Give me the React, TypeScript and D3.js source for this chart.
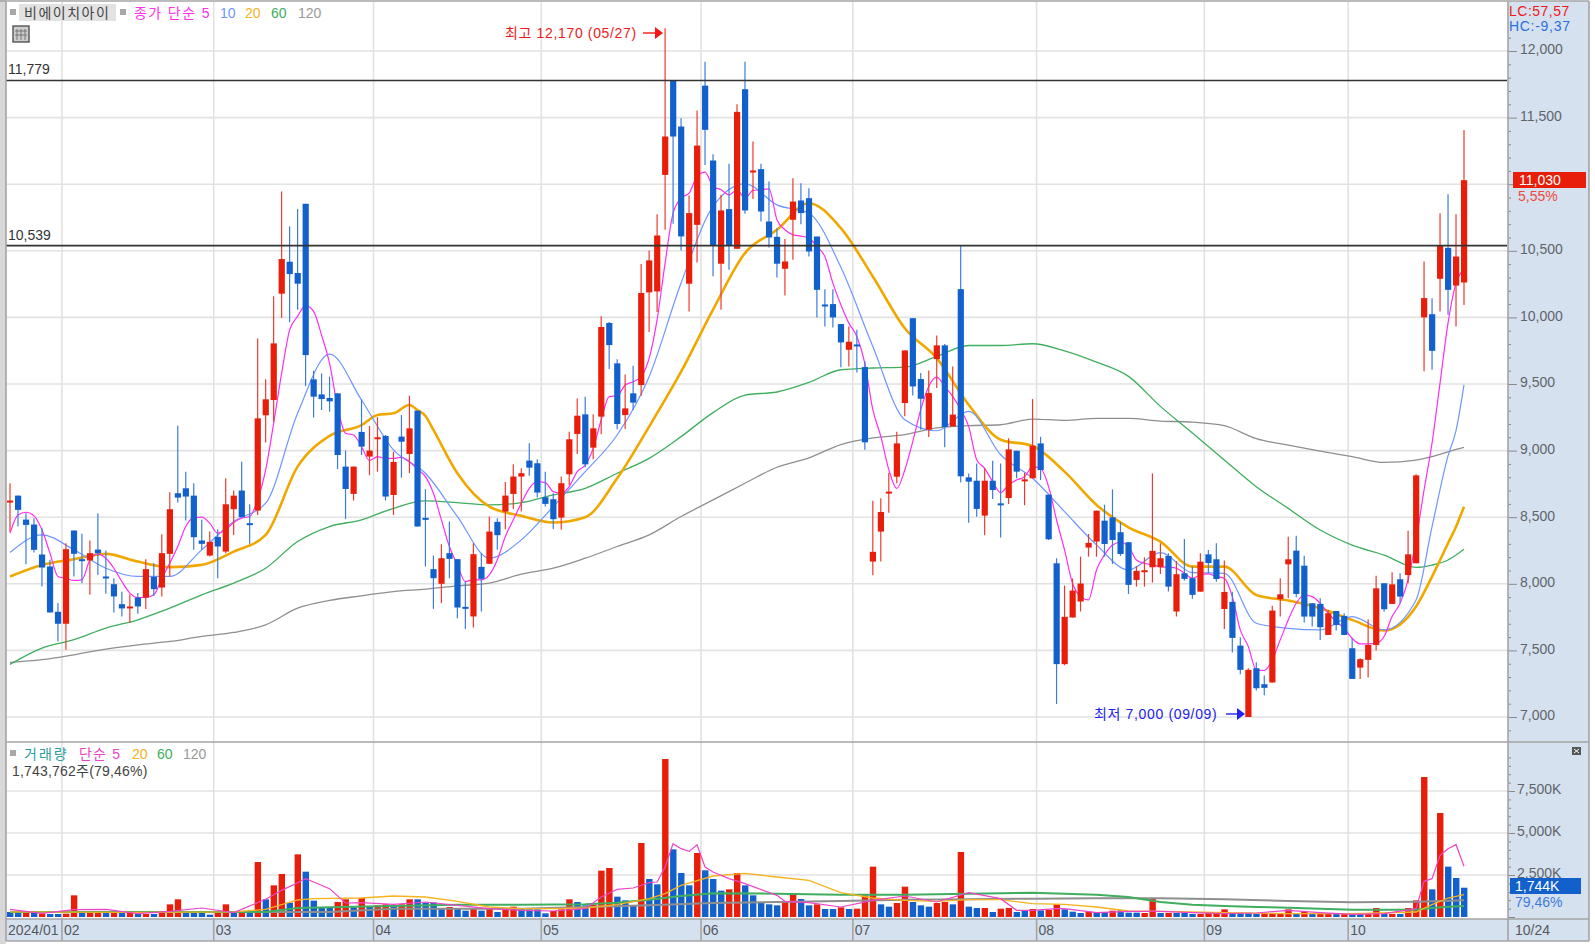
import { useRef, useEffect } from 'react';
import * as d3 from 'd3';

const opens = [
    8625, 8662, 8482, 8445, 8220, 8130, 7790, 7700, 8400, 8185,
    8175, 8257, 8055, 7997, 7847, 7830, 7897, 7897, 8052, 7972,
    8225, 8680, 8717, 8662, 8325, 8212, 8352, 8242, 8560, 8700,
    8455, 8550, 9265, 9380, 10178, 10418, 10333, 10853, 9535, 9422,
    9395, 9430, 8880, 8675, 9140, 8955, 9100, 9110, 8667, 9105,
    8975, 9300, 8495, 8110, 8000, 8230, 8185, 7827, 7755, 8127,
    8150, 8465, 8542, 8675, 8805, 8925, 8905, 8650, 8635, 8497,
    8822, 9125, 9272, 9022, 9255, 9958, 9655, 9267, 9430, 9492,
    10188, 10195, 11070, 11775, 11433, 10253, 10695, 11740, 11178, 10403,
    10813, 10515, 11713, 11103, 11113, 10720, 10605, 10365, 10733, 10878,
    10895, 10607, 10097, 10100, 9950, 9757, 9797, 9627, 8167, 8392,
    8692, 8804, 9357, 9994, 9537, 9157, 9687, 9790, 9182, 10212,
    8799, 8774, 8512, 8774, 8604, 8644, 8999, 8784, 8792, 9054,
    8669, 8154, 7397, 7747, 7867, 8272, 8317, 8474, 8499, 8387,
    8312, 8029, 8102, 8124, 8124, 8209, 7792, 8079, 8042, 7941,
    8221, 8184, 7811, 7864, 7536, 7000, 7366, 7246, 7259, 7884,
    8146, 8249, 8136, 7854, 7849, 7616, 7796, 7759, 7516, 7371,
    7429, 7541, 8004, 7849, 8034, 8066, 8154, 10000, 10024, 10290,
    10522, 10239, 10262,
];
const closes = [
    8625, 8555, 8442, 8255, 8122, 7785, 7700, 8260, 8225, 8180,
    8230, 8230, 8050, 7905, 7815, 7830, 7830, 8110, 7960, 8230,
    8560, 8647, 8655, 8350, 8300, 8315, 8280, 8597, 8662, 8500,
    8450, 9242, 9385, 9805, 10438, 10325, 10253, 9717, 9405, 9387,
    9370, 8967, 8712, 8880, 9030, 9000, 9100, 8655, 8915, 9067,
    9167, 8430, 8490, 8042, 8192, 8187, 7822, 7822, 8222, 8037,
    8392, 8365, 8662, 8805, 8830, 8872, 8685, 8600, 8485, 8755,
    9085, 9262, 8897, 9167, 9928, 9792, 9200, 9317, 9360, 10183,
    10428, 10615, 11358, 11358, 10608, 10783, 11290, 11408, 10540, 10803,
    10540, 11543, 10803, 11103, 10795, 10600, 10403, 10420, 10870, 10783,
    10495, 10207, 10092, 10000, 9812, 9817, 9792, 9062, 8240, 8539,
    8692, 9054, 9752, 9482, 9389, 9432, 9790, 9177, 9270, 8807,
    8767, 8562, 8774, 8704, 8599, 9009, 8842, 8784, 9037, 8854,
    8334, 7397, 7752, 7949, 8002, 8307, 8549, 8299, 8329, 8224,
    7992, 8097, 8102, 8247, 8192, 7979, 8072, 8037, 7917, 8166,
    8156, 8036, 7939, 7594, 7354, 7354, 7216, 7219, 7799, 7921,
    8184, 7924, 7754, 7754, 7674, 7779, 7691, 7616, 7286, 7434,
    7541, 7966, 7809, 7996, 7904, 8221, 8814, 10145, 9749, 10537,
    10207, 10457, 11030,
];
const highs = [
    8755, 8662, 8530, 8492, 8417, 8180, 7855, 8305, 8400, 8375,
    8325, 8530, 8250, 8042, 7940, 7922, 7930, 8185, 8155, 8372,
    8687, 9187, 8842, 8755, 8480, 8392, 8410, 8792, 8700, 8917,
    8597, 9842, 9535, 10158, 10945, 10683, 10813, 10853, 9600, 9580,
    9555, 9430, 9000, 8880, 9385, 9185, 9250, 9117, 8992, 9267,
    9412, 9300, 8710, 8212, 8297, 8467, 8185, 8017, 8305, 8230,
    8505, 8492, 8765, 8897, 8867, 9055, 8935, 8842, 8680, 8805,
    9142, 9392, 9405, 9272, 10008, 9965, 9685, 9572, 9637, 10400,
    10503, 10775, 12170, 11779, 11495, 10915, 11553, 11920, 11225, 10920,
    11153, 11600, 11920, 11320, 11153, 11020, 10670, 10588, 11045, 11008,
    10970, 10607, 10212, 10212, 9950, 9932, 9907, 9670, 8624, 8642,
    8834, 9142, 9752, 9994, 9582, 9602, 9865, 9800, 9632, 10537,
    8829, 8904, 8867, 8924, 8904, 9092, 8999, 8834, 9387, 9104,
    8669, 8192, 7987, 8040, 8204, 8374, 8549, 8594, 8709, 8462,
    8312, 8134, 8199, 8829, 8304, 8229, 8172, 8337, 8129, 8229,
    8254, 8304, 8174, 7941, 7599, 7366, 7411, 7311, 7836, 8041,
    8354, 8361, 8211, 7854, 7891, 7804, 7796, 7779, 7591, 7441,
    7734, 8061, 8004, 8086, 8079, 8399, 8822, 10420, 10144, 10782,
    10924, 10774, 11407,
];
const lows = [
    8392, 8430, 8147, 8235, 7980, 7785, 7567, 7505, 8055, 8005,
    7917, 8067, 7925, 7785, 7755, 7705, 7775, 7810, 7910, 7905,
    8055, 8610, 8475, 8255, 8255, 8205, 8042, 8230, 8367, 8500,
    8300, 8517, 9060, 9217, 9995, 9963, 10058, 9485, 9247, 9305,
    9292, 8862, 8487, 8625, 8967, 8815, 8842, 8625, 8517, 8797,
    8830, 8430, 8130, 7812, 7855, 8042, 7742, 7660, 7672, 7792,
    8150, 8255, 8410, 8562, 8542, 8812, 8647, 8580, 8412, 8405,
    8742, 8975, 8875, 8935, 9122, 9612, 9160, 9162, 9305, 9412,
    9890, 10040, 10658, 10703, 10503, 10045, 10413, 11145, 10308, 10058,
    10358, 10515, 10778, 10888, 10720, 10525, 10300, 10165, 10433, 10700,
    10457, 10000, 9932, 9925, 9625, 9632, 9587, 9007, 8064, 8167,
    8534, 8754, 9257, 9414, 9157, 9102, 9470, 9025, 9182, 8760,
    8459, 8504, 8364, 8637, 8347, 8599, 8792, 8589, 8792, 8779,
    8329, 7097, 7389, 7747, 7792, 8204, 8204, 8204, 8149, 8209,
    7924, 7979, 7979, 8009, 8074, 7942, 7754, 8024, 7887, 7941,
    8079, 8016, 7661, 7484, 7321, 7000, 7199, 7164, 7259, 7754,
    7891, 7899, 7709, 7679, 7579, 7616, 7649, 7616, 7286, 7286,
    7296, 7499, 7791, 7849, 7854, 8004, 8154, 9595, 9607, 10044,
    10019, 9932, 10094,
];

// 거래량 (thousand shares)
const volumes = [
    298, 258, 258, 258, 218, 179, 179, 198, 1290, 298,
    258, 258, 258, 258, 258, 258, 179, 179, 179, 258,
    754, 1052, 298, 298, 298, 139, 298, 754, 298, 357,
    298, 3274, 1052, 1885, 2560, 853, 3730, 2698, 972, 575,
    575, 893, 1052, 575, 1131, 655, 694, 754, 694, 754,
    1052, 1052, 853, 853, 496, 595, 496, 377, 496, 377,
    496, 298, 496, 615, 496, 456, 456, 218, 357, 456,
    1052, 893, 694, 734, 2758, 2916, 1210, 992, 694, 4405,
    2262, 1944, 9404, 4027, 2619, 1885, 3809, 2778, 2262, 1567,
    1647, 2619, 1885, 1290, 853, 754, 694, 932, 1428, 1071,
    694, 754, 476, 476, 575, 476, 496, 1290, 2996, 754,
    615, 833, 1805, 893, 694, 615, 833, 893, 754, 3869,
    615, 536, 536, 298, 496, 536, 298, 357, 476, 397,
    417, 754, 456, 317, 238, 317, 298, 298, 377, 397,
    258, 258, 238, 1091, 238, 238, 238, 238, 179, 179,
    238, 238, 456, 258, 258, 258, 179, 238, 238, 238,
    456, 238, 337, 179, 179, 238, 179, 179, 179, 179,
    179, 536, 179, 179, 179, 536, 992, 8333, 1647, 6190,
    2996, 2321, 1744,
];
const volumeDirs =
    'BBRBRBBRRB' + 'RRBRBRBRBR' + 'RRBBBBRRBR' + 'BRBRRBRBBB' + 'BRRBRBRRBR' +
    'RBBBBRBBRB' + 'RBRRBBBBRR' + 'RBBRRRBBBR' + 'BBRBBBRBBB' + 'RRBBBBBRRB' +
    'BRBBRBRRRB' + 'BRRBBBRRBR' + 'BBRBRRBBRB' + 'RRBBBRBBRB' + 'BBRRBRBBBR' +
    'RRRBBBBRRR' + 'RBRBRRBRBB' + 'RRBRBRRRBR' + 'BBB';

const ma5 = [
    8380, 8517, 8537, 8510, 8405, 8230, 8055, 8042, 8025, 8030,
    8180, 8225, 8192, 8117, 8017, 7930, 7897, 7897, 7917, 8042,
    8155, 8280, 8430, 8497, 8500, 8455, 8380, 8405, 8460, 8492,
    8505, 8630, 8855, 9205, 9580, 9905, 10008, 10088, 10045, 9867,
    9655, 9330, 9130, 9117, 9030, 8925, 8955, 8942, 8942, 8950,
    8917, 8860, 8805, 8680, 8480, 8280, 8142, 8017, 8030, 8030,
    8067, 8180, 8355, 8480, 8605, 8717, 8767, 8760, 8692, 8680,
    8730, 8842, 8892, 9017, 9230, 9405, 9412, 9492, 9517, 9555,
    9692, 9983, 10408, 10783, 10895, 10933, 11058, 11090, 10983, 10958,
    10920, 10958, 10895, 10953, 10958, 10965, 10733, 10658, 10620, 10610,
    10595, 10532, 10457, 10257, 10095, 9957, 9857, 9657, 9307, 9107,
    8857, 8717, 8854, 9067, 9307, 9482, 9552, 9482, 9407, 9307,
    9182, 8932, 8867, 8767, 8684, 8742, 8779, 8804, 8879, 8867,
    8729, 8479, 8254, 8004, 7904, 7879, 8104, 8217, 8292, 8312,
    8279, 8179, 8154, 8142, 8129, 8124, 8117, 8079, 8042, 8066,
    8074, 8054, 8041, 7904, 7654, 7529, 7354, 7349, 7429, 7579,
    7729, 7854, 7916, 7904, 7854, 7779, 7716, 7666, 7591, 7549,
    7549, 7554, 7604, 7754, 7854, 8029, 8329, 8704, 9057, 9507,
    9957, 10257, 10360,
];
const maIdx = [
    0, 4, 8, 12, 16, 20, 24, 28, 32, 36, 40, 44, 48, 52, 56, 60, 64, 68, 72, 76, 80, 84, 88, 92, 96,
    100, 104, 108, 112, 116, 120, 124, 128, 132, 136, 140, 144, 148, 152, 156, 160, 164, 168, 172,
    176, 178, 180, 181, 182,
];
const ma10 = [
    8235, 8367, 8255, 8117, 8055, 8055, 8255, 8467, 8605, 9280, 9725, 9380, 9005, 8830, 8505, 8192, 8330, 8580, 8842, 9117, 9555, 10258, 10833, 11003, 10845,
    10782, 10377, 9782, 9232, 9149, 9294, 8969, 8792, 8542, 8292, 8104, 8234, 8084, 8079, 7704, 7666, 7654, 7754, 7654,
    7879, 8429, 8960, 9150, 9494,
];
const ma20Idx = [
    0, 4, 8, 12, 16, 20, 24, 28, 32, 36, 40, 44, 46, 48, 50, 51, 52, 53, 56, 60, 64, 68, 72, 76, 80, 84, 88, 92, 96,
    100, 104, 108, 112, 116, 120, 124, 128, 132, 136, 140, 144, 148, 152, 156, 160, 164, 168, 172,
    176, 178, 180, 181, 182,
];
const ma20 = [
    8055, 8142, 8185, 8225, 8167, 8125, 8142, 8242, 8367, 8880, 9110, 9192, 9267, 9280, 9342, 9305, 9260, 9155, 8830, 8580, 8510, 8460, 8500, 8792, 9180, 9592, 10058, 10483, 10658,
    10857, 10670, 10307, 9919, 9694, 9344, 9082, 9034, 8842, 8592, 8424, 8317, 8129, 8129, 7916, 7874, 7816, 7729, 7649,
    7829, 8054, 8304, 8429, 8579,
];
const ma60 = [
    7395, 7517, 7580, 7667, 7730, 7817, 7917, 8005, 8117, 8317, 8430, 8480, 8567, 8622, 8610, 8592, 8610, 8667, 8717, 8830, 8942, 9105, 9285, 9417, 9440,
    9512, 9607, 9620, 9627, 9707, 9789, 9789, 9802, 9749, 9664, 9557, 9332, 9132, 8929, 8729, 8566, 8404, 8291, 8216,
    8124, 8141, 8179, 8216, 8259,
];
const ma120 = [
    7410, 7430, 7467, 7510, 7542, 7567, 7605, 7635, 7692, 7817, 7875, 7910, 7942, 7960, 7985, 8005, 8072, 8117, 8192, 8280, 8367, 8505, 8630, 8755, 8875,
    8945, 9045, 9095, 9120, 9170, 9187, 9194, 9237, 9227, 9242, 9242, 9222, 9214, 9187, 9090, 9041, 8996, 8954, 8911,
    8929, 8954, 8991, 9009, 9024,
];

const volMa5Idx = [0, 4, 8, 12, 16, 20, 24, 28, 32, 34, 36, 37, 38, 40, 42, 44, 48, 52, 56, 60, 64, 68, 72, 74, 76, 78, 80, 81, 82, 83, 84, 85, 86, 87, 88, 90, 92, 96, 97, 100, 104, 108, 112, 116, 120, 124, 126, 128, 131, 132, 136, 140, 144, 148, 152, 156, 160, 164, 168, 172, 176, 177, 178, 179, 180, 181, 182];
const volMa5 = [456, 218, 436, 456, 198, 337, 536, 258, 1052, 1587, 2043, 2282, 2083, 1686, 833, 853, 754, 893, 694, 496, 397, 357, 496, 1190, 1647, 1726, 2043, 2083, 2976, 4365, 4067, 3908, 4305, 2976, 2678, 2282, 1984, 1290, 932, 853, 595, 992, 1250, 893, 1448, 1091, 397, 397, 496, 496, 258, 337, 337, 258, 198, 238, 397, 258, 159, 198, 496, 2123, 2282, 3670, 4067, 4305, 3016];
const volMa20Idx = [0, 16, 28, 32, 34, 36, 38, 44, 48, 52, 56, 60, 64, 68, 72, 76, 80, 82, 84, 88, 92, 96, 100, 104, 108, 112, 116, 120, 124, 128, 132, 136, 140, 144, 148, 152, 160, 168, 176, 178, 180, 182];
const volMa20 = [300, 280, 300, 456, 734, 1012, 1091, 1131, 1250, 1190, 932, 595, 496, 496, 536, 734, 1091, 1389, 1885, 2440, 2599, 2381, 2182, 1448, 1131, 992, 932, 1032, 1032, 794, 754, 595, 357, 337, 298, 258, 198, 198, 298, 734, 1131, 1329];
const volMa60Idx = [0, 32, 36, 40, 48, 56, 64, 72, 76, 80, 84, 88, 96, 104, 112, 120, 128, 136, 140, 144, 148, 152, 156, 160, 168, 176, 178, 180, 182];
const volMa60 = [298, 298, 536, 575, 655, 734, 734, 754, 853, 1032, 1250, 1409, 1389, 1329, 1329, 1389, 1448, 1329, 1190, 893, 734, 655, 595, 556, 436, 436, 536, 615, 655];
const volMa120Idx = [0, 40, 48, 64, 72, 80, 88, 96, 104, 112, 120, 128, 136, 144, 152, 160, 168, 176, 182];
const volMa120 = [298, 298, 496, 496, 595, 694, 833, 893, 952, 1032, 1052, 1091, 1111, 1111, 1052, 952, 873, 913, 992];

const monthStarts = [7, 26, 46, 67, 87, 106, 129, 150, 168];
const monthLabels = ['02', '03', '04', '05', '06', '07', '08', '09', '10'];
const priceLevels = [11779, 10539];

const RED = '#e81e0a';
const BLUE = '#1160cc';
const MA5_COLOR = '#ff2ef0';
const MA10_COLOR = '#6f96ff';
const MA20_COLOR = '#f0a800';
const MA60_COLOR = '#3fae5f';
const MA120_COLOR = '#8f8f8f';
const FONT = "'Liberation Sans', 'Noto Sans CJK KR', sans-serif";

export default function App() {
    const svgRef = useRef<SVGSVGElement>(null);

    useEffect(() => {
        if (!svgRef.current) return;
        const svg = d3.select(svgRef.current);
        svg.selectAll('*').remove();

        const left = 6;
        const right = 1508;
        const x = d3.scaleLinear().domain([0, 182]).range([10, 1464]);
        const y = d3.scaleLinear().domain([7000, 12000]).range([717, 51]);
        const vy = d3.scaleLinear().domain([0, 7500]).range([917, 791]);

        const label = (tx: number, ty: number, s: string, fill: string, spacing = 0) =>
            svg.append('text')
                .attr('x', tx)
                .attr('y', ty)
                .attr('font-family', FONT)
                .attr('font-size', 14)
                .attr('letter-spacing', spacing)
                .attr('fill', fill)
                .text(s);

        // Frame and panels
        svg.append('rect').attr('width', 1595).attr('height', 944).attr('fill', '#fff');
        svg.append('rect').attr('x', 0).attr('y', 0).attr('width', left).attr('height', 944).attr('fill', '#d8d8d8');
        svg.append('rect').attr('x', right).attr('y', 1).attr('width', 81).attr('height', 940).attr('fill', '#d6e1ef');
        svg.append('rect').attr('x', left).attr('y', 919).attr('width', right - left).attr('height', 22).attr('fill', '#d6e1ef');

        // Grid
        const grid = svg.append('g').attr('stroke', '#e2e2e2').attr('stroke-width', 1.6);
        d3.range(7000, 12001, 500).forEach(v => {
            grid.append('line').attr('x1', left).attr('x2', right).attr('y1', y(v)).attr('y2', y(v));
        });
        [2500, 5000, 7500].forEach(v => {
            grid.append('line').attr('x1', left).attr('x2', right).attr('y1', vy(v)).attr('y2', vy(v));
        });
        monthStarts.forEach(m => {
            grid.append('line').attr('x1', x(m - 0.5)).attr('x2', x(m - 0.5)).attr('y1', 2).attr('y2', 919);
        });

        // Volume bars
        svg.append('g').selectAll('rect')
            .data(volumes)
            .enter()
            .append('rect')
            .attr('x', (_, i) => x(i) - 3)
            .attr('width', 6.4)
            .attr('y', d => vy(d))
            .attr('height', d => vy(0) - vy(d))
            .attr('fill', (_, i) => volumeDirs[i] === 'R' ? RED : BLUE);

        // Volume averages
        const volLine = (idx: number[], vals: number[], color: string, w: number) => {
            const line = d3.line<number>()
                .x((_, i) => x(idx[i]))
                .y(d => vy(d));
            svg.append('path')
                .attr('d', line(vals))
                .attr('fill', 'none')
                .attr('stroke', color)
                .attr('stroke-width', w);
        };
        volLine(volMa120Idx, volMa120, MA120_COLOR, 2);
        volLine(volMa60Idx, volMa60, MA60_COLOR, 2);
        volLine(volMa20Idx, volMa20, '#f5b21e', 1.3);
        volLine(volMa5Idx, volMa5, '#ee44c8', 1.2);

        // Price averages
        const priceLine = (idx: number[], vals: number[], color: string, w: number) => {
            const line = d3.line<number>()
                .x((_, i) => x(idx[i]))
                .y(d => y(d))
                .curve(d3.curveMonotoneX);
            svg.append('path')
                .attr('d', line(vals))
                .attr('fill', 'none')
                .attr('stroke', color)
                .attr('stroke-width', w);
        };
        priceLine(maIdx, ma120, MA120_COLOR, 1.3);
        priceLine(maIdx, ma60, MA60_COLOR, 1.3);
        priceLine(ma20Idx, ma20, MA20_COLOR, 2.6);
        priceLine(maIdx, ma10, MA10_COLOR, 1.2);
        priceLine(d3.range(ma5.length), ma5, MA5_COLOR, 1.2);

        // Candles
        const candles = svg.append('g').selectAll('g')
            .data(d3.range(opens.length))
            .enter()
            .append('g');

        const isUp = (i: number) => closes[i] >= opens[i];

        candles.append('line')
            .attr('x1', i => x(i))
            .attr('x2', i => x(i))
            .attr('y1', i => y(highs[i]))
            .attr('y2', i => y(lows[i]))
            .attr('stroke-width', 1.2)
            .attr('stroke', i => isUp(i) ? '#ee3a2e' : '#3b7be0');

        candles.append('rect')
            .attr('x', i => x(i) - 3)
            .attr('width', 6.2)
            .attr('y', i => y(Math.max(opens[i], closes[i])))
            .attr('height', i => Math.max(2, Math.abs(y(opens[i]) - y(closes[i]))))
            .attr('fill', i => isUp(i) ? RED : BLUE);

        // Horizontal level lines
        priceLevels.forEach(v => {
            svg.append('line')
                .attr('x1', left)
                .attr('x2', right - 1)
                .attr('y1', y(v))
                .attr('y2', y(v))
                .attr('stroke', '#333')
                .attr('stroke-width', 1.6);
            label(8, y(v) - 6, d3.format(',')(v), '#333');
        });

        // Axes
        const axisFmt = d3.format(',');
        const priceAxis = d3.axisRight(y)
            .tickValues(d3.range(6900, 12101, 100))
            .tickSize(0)
            .tickFormat(() => '');
        const priceG = svg.append('g').attr('transform', `translate(${right},0)`).call(priceAxis);
        priceG.select('.domain').remove();
        priceG.selectAll<SVGGElement, number>('.tick').each(function (d) {
            const major = d % 500 === 0;
            d3.select(this).select('line')
                .attr('x2', major ? 9 : 3)
                .attr('stroke', '#8a8a8a');
            // 11,000 sits under the current price tag
            d3.select(this).select('text')
                .attr('x', 12)
                .attr('y', -1.5)
                .attr('dy', '0.32em')
                .attr('font-family', FONT)
                .attr('font-size', 14)
                .attr('fill', '#5f646b')
                .text(major && d >= 7000 && d <= 12000 && d !== 11000 ? axisFmt(d) : '');
        });

        const volAxis = d3.axisRight(vy)
            .tickValues(d3.range(0, 9501, 500))
            .tickSize(0)
            .tickFormat(() => '');
        const volG = svg.append('g').attr('transform', `translate(${right},0)`).call(volAxis);
        volG.select('.domain').remove();
        volG.selectAll<SVGGElement, number>('.tick').each(function (d) {
            const major = d % 2500 === 0;
            d3.select(this).select('line')
                .attr('x2', major ? 7 : 3)
                .attr('stroke', '#8a8a8a');
            d3.select(this).select('text')
                .attr('x', 9)
                .attr('y', -2)
                .attr('dy', '0.32em')
                .attr('font-family', FONT)
                .attr('font-size', 14)
                .attr('fill', '#5f646b')
                .text(major && d > 0 ? `${axisFmt(d)}K` : '');
        });

        // Frame lines
        const frame = svg.append('g').attr('stroke', '#a4a4a4').attr('stroke-width', 1.6);
        frame.append('line').attr('x1', 0).attr('x2', 1589).attr('y1', 1).attr('y2', 1);
        frame.append('line').attr('x1', left).attr('x2', left).attr('y1', 1).attr('y2', 941);
        frame.append('line').attr('x1', right).attr('x2', right).attr('y1', 1).attr('y2', 941);
        frame.append('line').attr('x1', 1589).attr('x2', 1589).attr('y1', 1).attr('y2', 941);
        frame.append('line').attr('x1', left).attr('x2', 1589).attr('y1', 742).attr('y2', 742);
        frame.append('line').attr('x1', left).attr('x2', 1589).attr('y1', 919).attr('y2', 919);
        frame.append('line').attr('x1', left).attr('x2', 1589).attr('y1', 941).attr('y2', 941);
        monthStarts.forEach(m => {
            frame.append('line').attr('x1', x(m - 0.5)).attr('x2', x(m - 0.5)).attr('y1', 919).attr('y2', 941);
        });

        // Date strip
        label(8, 935, '2024/01', '#55595f');
        monthLabels.forEach((m, i) => label(x(monthStarts[i] - 0.5) + 2, 935, m, '#55595f'));
        label(1515, 935, '10/24', '#55595f');

        // Legend, price panel
        svg.append('rect').attr('x', 10).attr('y', 9).attr('width', 6).attr('height', 6).attr('fill', '#a8a8a8');
        svg.append('rect').attr('x', 19).attr('y', 4).attr('width', 97).attr('height', 17).attr('fill', '#e2e2e2');
        label(24, 18, '비에이치아이', '#444', 1.5);
        svg.append('rect').attr('x', 120).attr('y', 9).attr('width', 6).attr('height', 6).attr('fill', '#a8a8a8');
        label(134, 18, '종가 단순 5', MA5_COLOR, 1.4);
        label(220, 18, '10', MA10_COLOR);
        label(245, 18, '20', '#f5b21e');
        label(271, 18, '60', MA60_COLOR);
        label(298, 18, '120', '#999');

        // Small table icon
        const icon = svg.append('g');
        icon.append('rect').attr('x', 13).attr('y', 26).attr('width', 16).attr('height', 16).attr('fill', '#ccc').attr('stroke', '#555').attr('stroke-width', 1.4);
        [17, 21, 25].forEach(v => {
            icon.append('line').attr('x1', v).attr('x2', v).attr('y1', 29).attr('y2', 40).attr('stroke', '#777');
        });
        [31, 35].forEach(v => {
            icon.append('line').attr('x1', 15).attr('x2', 27).attr('y1', v).attr('y2', v).attr('stroke', '#777');
        });

        // High / low callouts
        const hiLo = (tx: number, ty: number, s: string, ax1: number, ax2: number, color: string) => {
            label(tx, ty, s, color, 0.65);
            const ay = ty - 5;
            svg.append('line').attr('x1', ax1).attr('x2', ax2 - 6).attr('y1', ay).attr('y2', ay).attr('stroke', color).attr('stroke-width', 1.4);
            svg.append('path').attr('d', d3.line()([[ax2 - 8, ay - 6], [ax2, ay], [ax2 - 8, ay + 6]])).attr('fill', color);
        };
        hiLo(505, 38, '최고 12,170 (05/27)', 643, 663, '#f01818');
        hiLo(1094, 719, '최저 7,000 (09/09)', 1226, 1245, '#2222ee');

        // Top right readouts
        label(1509, 16, 'LC:57,57', '#f01818', 0.5);
        label(1509, 31, 'HC:-9,37', '#2a6fe0', 0.7);

        // Current price tag
        svg.append('rect').attr('x', 1513).attr('y', 172).attr('width', 73).attr('height', 16).attr('fill', RED);
        label(1519, 185, '11,030', '#fff');
        label(1518, 201, '5,55%', '#ee4a40');

        // Volume legend
        svg.append('rect').attr('x', 10).attr('y', 750).attr('width', 6).attr('height', 6).attr('fill', '#a8a8a8');
        label(24, 759, '거래량', '#2a9d9d', 2);
        label(79, 759, '단순 5', '#e844c8', 1.2);
        label(132, 759, '20', '#f5b21e');
        label(157, 759, '60', MA60_COLOR);
        label(183, 759, '120', '#999');
        label(12, 776, '1,743,762주(79,46%)', '#444', 0.2);

        // Current volume tag
        svg.append('rect').attr('x', 1510).attr('y', 878).attr('width', 71).attr('height', 16).attr('fill', BLUE);
        label(1515, 891, '1,744K', '#fff');
        label(1515, 907, '79,46%', '#3b7be0');

        // Collapse button
        svg.append('rect').attr('x', 1572).attr('y', 747).attr('width', 9).attr('height', 8).attr('fill', '#555');
        svg.append('path').attr('d', d3.line()([[1574, 749], [1579, 753]])).attr('stroke', '#fff');
        svg.append('path').attr('d', d3.line()([[1579, 749], [1574, 753]])).attr('stroke', '#fff');
    }, []);

    return (
        <svg
            ref={svgRef}
            width={1595}
            height={944}
            style={{ position: 'absolute', left: 0, top: 0, display: 'block' }}
        />
    );
}
